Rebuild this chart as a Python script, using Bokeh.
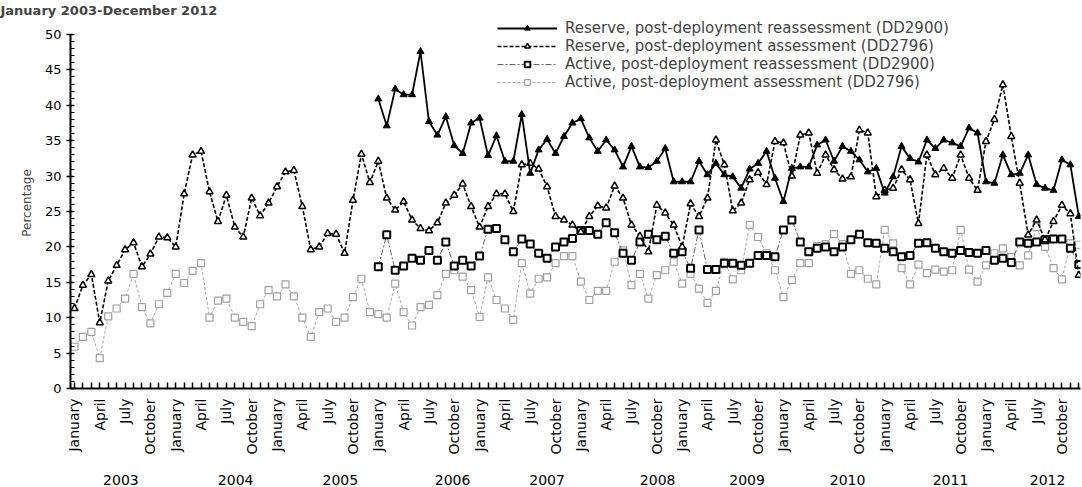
import math
from bokeh.plotting import figure
from bokeh.models import (Range1d, LinearAxis, FixedTicker, SingleIntervalTicker,
                          Legend, LegendItem)
from bokeh.embed import file_html
from bokeh.resources import INLINE

# ---------------- data ----------------
title_text = "January 2003-December 2012"
months = list(range(120))            # 0 = January 2003 ... 119 = December 2012
month_tick_labels = ["January", "April", "July", "October"]
years = ["2003", "2004", "2005", "2006", "2007", "2008", "2009", "2010", "2011", "2012"]
year_label_pos = [5.5, 19.1, 31.5, 44.8, 56.0, 69.1, 79.7, 91.6, 103.8, 115.3]
reassess_start = 36                  # January 2006

series_names = [
    "Reserve, post-deployment reassessment (DD2900)",
    "Reserve, post-deployment assessment (DD2796)",
    "Active, post-deployment reassessment (DD2900)",
    "Active, post-deployment assessment (DD2796)",
]

reserve_reassess = [
    40.9, 37.1, 42.3, 41.5, 41.5, 47.6, 37.7, 35.8, 38.4, 34.3, 33.2, 37.5,
    38.2, 32.9, 35.7, 32.1, 32.1, 38.7, 30.4, 33.7, 35.2, 33.2, 35.6, 37.5,
    38.1, 35.4, 33.5, 35.1, 33.7, 31.3, 34.2, 31.3, 31.2, 32.1, 33.9, 29.2,
    29.2, 29.2, 32.1, 30.2, 31.8, 30.2, 29.9, 28.3, 31.0, 31.8, 33.5, 29.7,
    26.4, 31.1, 31.3, 31.3, 34.4, 35.1, 32.1, 34.2, 33.5, 32.3, 30.6, 31.1,
    27.6, 29.9, 34.2, 32.5, 32.0, 35.1, 33.9, 35.1, 34.7, 34.2, 36.8, 36.1,
    29.2, 29.0, 33.0, 30.2, 30.4, 33.0, 28.8, 28.3, 28.0, 32.3, 31.6, 24.3,
]

reserve_assess = [
    11.3, 14.6, 16.1, 9.3, 15.2, 17.4, 19.6, 20.6, 17.2, 19.0, 21.4, 21.3,
    20.0, 27.5, 33.0, 33.5, 27.8, 23.6, 27.3, 22.8, 21.4, 26.9, 24.4, 26.2,
    28.5, 30.6, 30.8, 25.7, 19.6, 20.0, 21.9, 21.8, 19.1, 26.6, 33.1, 29.1,
    32.1, 26.9, 25.2, 26.4, 23.8, 22.6, 22.3, 23.4, 26.2, 27.3, 28.9, 25.7,
    22.8, 25.7, 27.5, 27.5, 25.0, 31.6, 31.8, 31.0, 28.5, 24.3, 23.8, 23.1,
    22.1, 24.3, 25.8, 25.5, 28.6, 26.9, 23.1, 21.5, 19.3, 25.9, 24.8, 23.1,
    20.0, 26.1, 24.3, 26.9, 35.1, 31.6, 25.1, 26.2, 29.5, 30.5, 28.8, 34.9,
    34.7, 30.0, 35.8, 36.1, 30.4, 33.0, 30.9, 29.6, 29.9, 36.5, 36.1, 27.1,
    28.0, 28.3, 30.9, 29.5, 23.3, 33.0, 30.2, 31.1, 29.7, 33.0, 29.7, 28.0,
    34.9, 38.0, 42.9, 35.6, 29.0, 21.7, 23.8, 21.0, 23.6, 25.9, 24.7, 16.0,
]

active_reassess = [
    17.2, 21.7, 16.7, 17.3, 18.4, 18.1, 19.5, 18.1, 20.7, 17.3, 18.1, 17.3,
    18.7, 22.5, 22.6, 21.0, 19.3, 21.1, 20.4, 19.1, 18.4, 20.0, 20.7, 21.2,
    22.3, 22.3, 21.8, 23.4, 22.0, 19.1, 18.1, 20.7, 21.8, 21.0, 21.5, 19.1,
    19.3, 17.0, 22.4, 16.8, 16.8, 17.7, 17.7, 17.4, 17.7, 18.8, 18.8, 18.6,
    22.4, 23.8, 20.7, 19.3, 19.8, 20.0, 19.3, 20.0, 21.0, 21.8, 20.6, 20.5,
    19.8, 19.3, 18.6, 18.8, 20.5, 20.6, 19.8, 19.3, 19.1, 19.5, 19.2, 19.1,
    19.5, 18.1, 18.4, 17.8, 20.7, 20.5, 20.7, 21.0, 21.1, 21.1, 19.8, 17.5,
]

active_assess = [
    5.9, 7.3, 8.0, 4.3, 10.2, 11.3, 12.7, 16.2, 11.5, 9.2, 11.9, 13.5,
    16.2, 14.9, 16.6, 17.7, 10.0, 12.4, 12.7, 10.0, 9.4, 8.8, 11.9, 13.9,
    13.0, 14.7, 13.0, 10.0, 7.3, 10.8, 11.3, 9.4, 10.0, 12.9, 15.5, 10.8,
    10.5, 10.0, 14.8, 10.8, 8.9, 11.5, 11.8, 13.2, 16.2, 16.7, 15.8, 13.9,
    10.1, 15.7, 12.5, 11.3, 9.7, 17.7, 13.4, 15.5, 15.7, 17.7, 18.7, 18.7,
    15.1, 12.5, 13.8, 13.8, 17.9, 19.5, 14.6, 16.2, 12.7, 16.0, 16.7, 17.9,
    14.8, 16.2, 14.1, 12.1, 13.8, 17.9, 15.4, 16.7, 23.1, 21.4, 19.1, 16.7,
    12.9, 15.3, 17.7, 17.7, 20.1, 20.4, 21.8, 20.4, 16.2, 16.7, 15.5, 14.7,
    22.4, 20.5, 17.0, 14.7, 17.5, 16.3, 16.8, 16.5, 16.7, 22.4, 16.8, 15.1,
    17.4, 19.1, 19.8, 18.6, 17.4, 18.8, 22.8, 20.0, 17.0, 15.4, 20.5, 20.3,
]

re_months = months[reassess_start:]

FONT = "DejaVu Sans"

# ---------------- figure ----------------
p = figure(width=1082, height=487, output_backend="svg", toolbar_location=None,
           x_range=Range1d(-0.47, 119.2), y_range=Range1d(0, 52.4),
           min_border_left=70, min_border_right=2, min_border_top=0,
           min_border_bottom=99)
p.outline_line_color = None
p.xgrid.visible = False
p.ygrid.visible = False
p.background_fill_color = "white"
p.border_fill_color = "white"

p.title.text = title_text
p.title.text_font = FONT
p.title.text_font_size = "13px"
p.title.text_font_style = "bold"
p.title.offset = -70
p.title.standoff = 0

# x axis (months)
xa = p.xaxis[0]
xa.ticker = FixedTicker(ticks=months)
xa.major_label_overrides = {m: (month_tick_labels[(m % 12) // 3] if m % 3 == 0 else "")
                            for m in months}
xa.major_label_orientation = math.pi / 2
xa.major_label_text_font = FONT
xa.major_label_text_font_size = "14px"
xa.major_label_text_color = "black"
xa.major_tick_in = 6
xa.major_tick_out = 0
xa.minor_tick_line_color = None
xa.axis_line_width = 2
xa.major_tick_line_width = 1.5
xa.major_label_standoff = 10

# year axis
ya2 = LinearAxis(ticker=FixedTicker(ticks=year_label_pos),
                 major_label_overrides={pos: yr for pos, yr in zip(year_label_pos, years)})
ya2.axis_line_color = None
ya2.major_tick_line_color = None
ya2.minor_tick_line_color = None
ya2.major_label_text_font = FONT
ya2.major_label_text_font_size = "14px"
ya2.major_label_text_color = "black"
ya2.major_label_standoff = 11
p.add_layout(ya2, "below")

# y axis
yax = p.yaxis[0]
yax.ticker = SingleIntervalTicker(interval=5, num_minor_ticks=5)
yax.bounds = (0, 50)
yax.axis_label = "Percentage"
yax.axis_label_text_font = FONT
yax.axis_label_text_font_size = "12px"
yax.axis_label_text_font_style = "normal"
yax.axis_label_standoff = 8
yax.major_label_text_font = FONT
yax.major_label_text_font_size = "13px"
yax.major_label_text_color = "black"
yax.axis_line_width = 2
yax.major_tick_in = 3
yax.major_tick_out = 4
yax.minor_tick_in = 4
yax.minor_tick_out = 0
yax.major_tick_line_width = 1.5
yax.minor_tick_line_width = 1.2

# ---------------- series ----------------
l4 = p.line(months, active_assess, line_color="#a6a6a6", line_width=1, line_dash="3 2")
s4 = p.scatter(months, active_assess, marker="square", size=7, fill_color="white",
               line_color="#a0a0a0", line_width=1.2)

l3 = p.line(re_months, active_reassess, line_color="#666666", line_width=1, line_dash="6 2 2 2")
s3 = p.scatter(re_months, active_reassess, marker="square", size=7, fill_color="white",
               line_color="black", line_width=2)

l2 = p.line(months, reserve_assess, line_color="black", line_width=1.6, line_dash="4 2")
s2 = p.scatter(months, reserve_assess, marker="triangle", size=7, fill_color="white",
               line_color="black", line_width=1.5)

l1 = p.line(re_months, reserve_reassess, line_color="black", line_width=1.8)
s1 = p.scatter(re_months, reserve_reassess, marker="triangle", size=7, fill_color="black",
               line_color="black", line_width=1)

legend = Legend(items=[
    LegendItem(label=series_names[0], renderers=[l1, s1]),
    LegendItem(label=series_names[1], renderers=[l2, s2]),
    LegendItem(label=series_names[2], renderers=[l3, s3]),
    LegendItem(label=series_names[3], renderers=[l4, s4]),
], location=(427, 297))
legend.border_line_color = None
legend.background_fill_alpha = 0
legend.glyph_width = 60
legend.glyph_height = 14
legend.label_height = 14
legend.spacing = 0
legend.padding = 0
legend.margin = 0
legend.label_standoff = 8
legend.label_text_font = FONT
legend.label_text_font_size = "15px"
legend.label_text_line_height = 1.0
p.add_layout(legend)

open("out.html", "w").write(file_html(p, INLINE))
